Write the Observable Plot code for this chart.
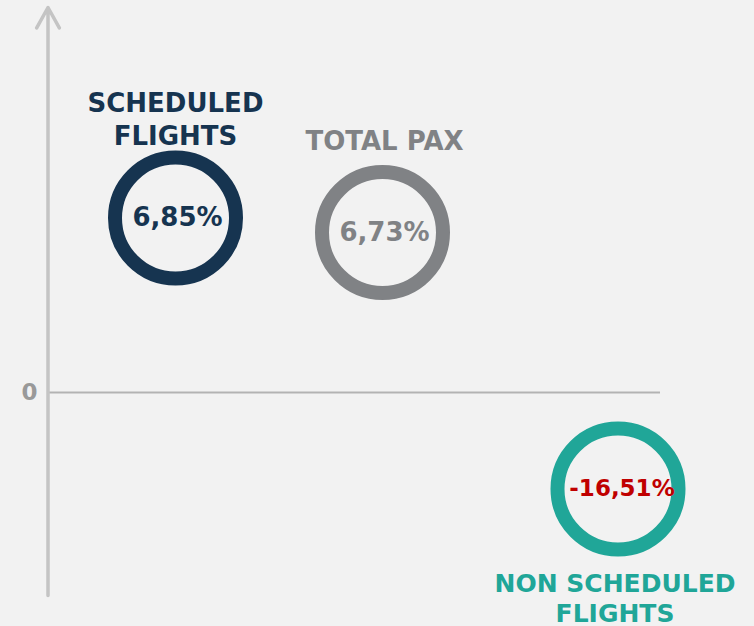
<!DOCTYPE html>
<html><head><meta charset="utf-8">
<script src="https://cdn.jsdelivr.net/npm/d3@7"></script>
<script src="https://cdn.jsdelivr.net/npm/@observablehq/plot@0.6"></script>
<style>html,body{margin:0;padding:0;background:#f2f2f2;overflow:hidden;}</style>
</head><body><div id="chart"></div>
<script>
const categories = ["SCHEDULED\nFLIGHTS", "TOTAL PAX", "NON SCHEDULED\nFLIGHTS"];
const values = [6.85, 6.73, -16.51];
const valueLabels = ["6,85%", "6,73%", "-16,51%"];
const zeroLabel = ["0"];

const ringColors = ["#163450", "#808285", "#20a698"];
const valueColors = ["#163450", "#808285", "#c00000"];

const data = categories.map((c, i) => ({category: c, index: i, value: values[i], label: valueLabels[i]}));
const font = "DejaVu Sans";

const chart = Plot.plot({
  width: 754,
  height: 626,
  margin: 0,
  style: {background: "#f2f2f2", fontFamily: font, overflow: "visible"},
  x: {type: "linear", domain: [-1, 0, 1, 2, 3], range: [47.5, 175, 382, 617.5, 660], axis: null},
  y: {type: "linear", domain: [-25, -16.51, 0, 6.73, 6.85, 10], range: [595, 488.5, 392, 232, 217.5, 7], axis: null},
  marks: [
    Plot.ruleY([0], {x1: -1, x2: 3, stroke: "#b3b3b3", strokeWidth: 2}),
    Plot.arrow([0], {x1: -1, x2: -1, y1: -25, y2: 10, stroke: "#c4c4c4", strokeWidth: 3.5, headLength: 10, headAngle: 58}),
    Plot.text(zeroLabel, {x: -1, y: 0, text: d => d, dx: -18.5, fill: "#999999", fontSize: 23, fontWeight: 700, textAnchor: "middle"}),
    Plot.dot(data, {x: "index", y: "value", r: 60.5, stroke: (d, i) => ringColors[i], strokeWidth: 14, fill: "none"}),
    Plot.text(data.filter(d => d.value >= 0), {x: "index", y: "value", text: "label", dx: 2, fill: (d) => valueColors[d.index], fontSize: 26, fontWeight: 700, textAnchor: "middle"}),
    Plot.text(data.filter(d => d.value < 0), {x: "index", y: "value", text: "label", dx: 4, fill: (d) => valueColors[d.index], fontSize: 23, fontWeight: 700, textAnchor: "middle"}),
    Plot.text(data.filter(d => d.index === 0), {x: "index", y: "value", text: "category", dy: -100, lineHeight: 1.27, fill: ringColors[0], fontSize: 26, fontWeight: 700, textAnchor: "middle"}),
    Plot.text(data.filter(d => d.index === 1), {x: "index", y: "value", text: "category", dy: -91, dx: 2, fill: ringColors[1], fontSize: 26, fontWeight: 700, textAnchor: "middle"}),
    Plot.text(data.filter(d => d.index === 2), {x: "index", y: "value", text: "category", dy: 108, dx: -3, lineHeight: 1.2, fill: ringColors[2], fontSize: 25, fontWeight: 700, textAnchor: "middle"})
  ]
});
document.getElementById("chart").appendChild(chart);
</script>
</body></html>
